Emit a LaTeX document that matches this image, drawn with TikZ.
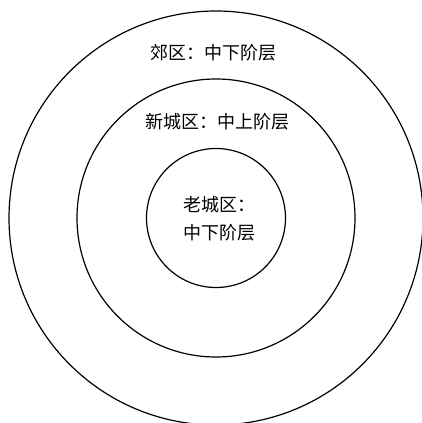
\documentclass[tikz,border=0pt]{standalone}
\usepackage{fontspec}
\newfontfamily\cjk{Noto Sans CJK SC}
\usetikzlibrary{positioning}
\tikzset{
  ring/.style={circle,draw=black,line width=1.2pt,inner sep=0pt},
  zonelbl/.style={font=\cjk\fontsize{18}{28}\selectfont,inner sep=1pt,align=left},
}

\begin{document}
\begin{tikzpicture}[x=1pt,y=-1pt]
  \useasboundingbox (0,0) rectangle (422,423);
  % rings
  \node[ring,minimum size=414pt] (outer) at (216,218) {};
  \node[ring,minimum size=278pt] (mid) at (216,218) {};
  \node[ring,minimum size=139pt] (core) at (216,218) {};
  % labels
  \node[zonelbl] (suburb) at (213,53) {郊区：中下阶层};
  \node[zonelbl] (newtown) at (217,122) {新城区：中上阶层};
  \node[zonelbl] (oldtown) at (219,219) {老城区：\\中下阶层};
\end{tikzpicture}
\end{document}
